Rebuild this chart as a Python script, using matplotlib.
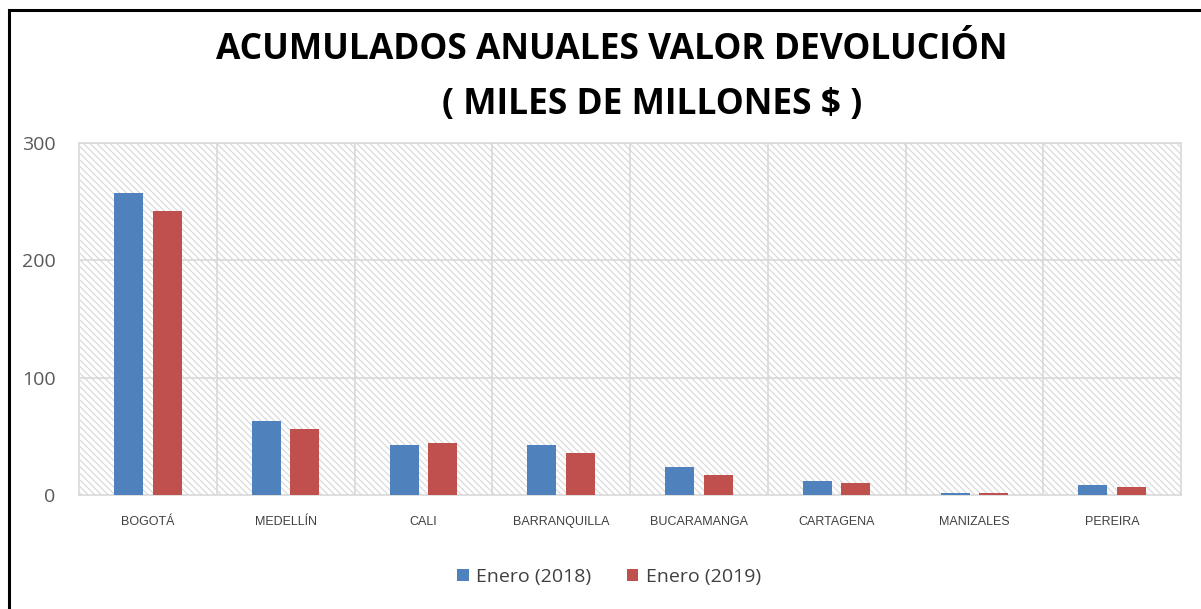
import matplotlib.pyplot as plt
import matplotlib.patches as patches
import numpy as np

ciudades = ["BOGOTÁ", "MEDELLÍN", "CALI", "BARRANQUILLA", "BUCARAMANGA",
            "CARTAGENA", "MANIZALES", "PEREIRA"]
enero_2018 = [257, 63, 43, 43, 24, 12, 2, 8.5]
enero_2019 = [242, 56, 44, 36, 17, 10, 2, 7]
serie_nombres = ["Enero (2018)", "Enero (2019)"]
y_ticks = [0, 100, 200, 300]

plt.rcParams['font.family'] = ['Open Sans', 'DejaVu Sans']
plt.rcParams['hatch.linewidth'] = 0.9

fig = plt.figure(figsize=(12.01, 6.09), dpi=100)
ax = fig.add_axes([79 / 1201, 1 - 495 / 609, (1181 - 79) / 1201, (495 - 143) / 609])

# marco exterior
fig.patches.append(patches.Rectangle((8.5 / 1201, -0.01), 1.1, 1 - 9.5 / 609 + 0.01,
                                     transform=fig.transFigure, fill=False,
                                     edgecolor='black', linewidth=2.2))

# fondo rayado
ax.add_patch(patches.Rectangle((0, 0), 1, 1, transform=ax.transAxes,
                               facecolor='white', edgecolor='#dadada', linewidth=0,
                               hatch='\\' * 5, zorder=0))

x = np.arange(len(ciudades))
ancho = 0.21
ax.bar(x - 0.14, enero_2018, ancho, color='#4f81bd', label=serie_nombres[0], zorder=3)
ax.bar(x + 0.14, enero_2019, ancho, color='#c0504d', label=serie_nombres[1], zorder=3)

ax.set_xlim(-0.5, len(ciudades) - 0.5)
ax.set_ylim(0, 300)
ax.set_yticks(y_ticks)
for v in y_ticks[1:]:
    ax.axhline(v, color='#d9d9d9', linewidth=1.2, zorder=1)
for b in np.arange(0.5, len(ciudades) - 0.5, 1):
    ax.axvline(b, color='#d9d9d9', linewidth=1.2, zorder=1)

for s in ax.spines.values():
    s.set_color('#d9d9d9')
    s.set_linewidth(1.2)
ax.tick_params(length=0)
ax.set_xticks(x)
ax.set_xticklabels(ciudades, fontsize=9, color='#404040',
                   fontfamily=['Liberation Sans Narrow', 'Liberation Sans', 'DejaVu Sans'])
ax.tick_params(axis='x', pad=15)
ax.tick_params(axis='y', labelsize=14, labelcolor='#595959', pad=17)

fig.text(612 / 1201, 1 - 50 / 609, "ACUMULADOS ANUALES VALOR DEVOLUCIÓN",
         ha='center', va='center', fontsize=25.5, fontweight='bold', color='black')
fig.text(652 / 1201, 1 - 105 / 609, "( MILES DE MILLONES $ )",
         ha='center', va='center', fontsize=25.5, fontweight='bold', color='black')

fig.legend(loc='center', bbox_to_anchor=(609 / 1201, 1 - 577 / 609), ncol=2,
           frameon=False, fontsize=14, handlelength=0.6, handleheight=0.6,
           handletextpad=0.4, columnspacing=1.8, labelcolor='#404040')

fig.savefig("out.png", dpi=100)
